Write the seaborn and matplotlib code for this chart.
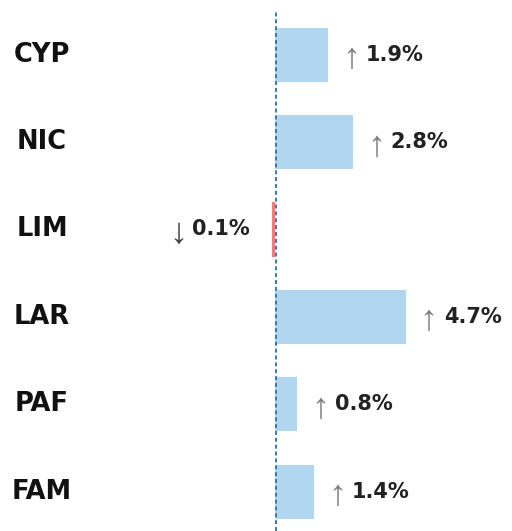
import matplotlib
matplotlib.use("Agg")
import matplotlib.pyplot as plt
import seaborn as sns
import pandas as pd
import matplotlib.transforms as mtransforms

categories = ["CYP", "NIC", "LIM", "LAR", "PAF", "FAM"]
values = [1.9, 2.8, -0.1, 4.7, 0.8, 1.4]

sns.set_theme(style="white")
plt.rcParams['font.family'] = ['DejaVu Sans']

df = pd.DataFrame({"cat": categories, "val": values})
df["sign"] = ["pos" if v >= 0 else "neg" for v in values]

W, H = 512, 531
fig = plt.figure(figsize=(W / 100, H / 100), dpi=100)
top_px = 11
ax = fig.add_axes([0, 0, 1, (H - top_px) / H])

sns.barplot(data=df, y="cat", x="val", hue="sign", orient="h",
            palette={"pos": "#b1d6ef", "neg": "#ee7d80"},
            width=0.62, legend=False, ax=ax, saturation=1, linewidth=0)

ppx = 27.8  # pixels per percent
zero_px = 275
ax.set_xlim(-zero_px / ppx, (W - zero_px) / ppx)
ax.set_ylim(5.45, -0.5)
ax.axvline(0.03, color="#2f6fa6", linestyle=(0, (2.2, 1.6)), linewidth=1.3, zorder=3)

for s in ax.spines.values():
    s.set_visible(False)
ax.set_xticks([])
ax.set_yticks([])
ax.set_xlabel("")
ax.set_ylabel("")

arrow_font = ["Liberation Sans", "DejaVu Sans"]
trans = mtransforms.blended_transform_factory(fig.transFigure, ax.transData)
for i, (c, v) in enumerate(zip(categories, values)):
    ax.text(42 / W, i, c, transform=trans, ha="center", va="center",
            fontsize=18.5, fontweight="bold", color="#111111")
    if v >= 0:
        ax.annotate("↑", (v, i), xytext=(14, -4), textcoords="offset pixels",
                    ha="left", va="center", fontsize=26, color="#808080", family=arrow_font)
        ax.annotate(f"{abs(v):.1f}%", (v, i), xytext=(38, 0), textcoords="offset pixels",
                    ha="left", va="center", fontsize=15, fontweight="bold", color="#222222")
    else:
        ax.annotate(f"{abs(v):.1f}%", (v, i), xytext=(-22, 0), textcoords="offset pixels",
                    ha="right", va="center", fontsize=15, fontweight="bold", color="#222222")
        ax.annotate("↓", (v, i), xytext=(-85, -4), textcoords="offset pixels",
                    ha="right", va="center", fontsize=26, color="#444444", family=arrow_font)

fig.savefig("out.png", dpi=100)
